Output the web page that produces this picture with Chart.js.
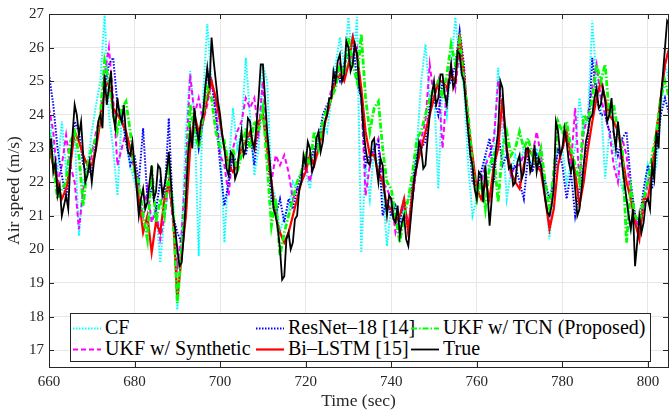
<!DOCTYPE html>
<html>
<head>
<meta charset="utf-8">
<script src="https://cdn.jsdelivr.net/npm/chart.js@4.4.1/dist/chart.umd.min.js"></script>
<style>
  body { margin: 0; background: #fff; }
  #wrap { position: relative; width: 669px; height: 413px; }
  #legend {
    position: absolute; left: 70px; top: 313px; width: 579px; height: 47px;
    border: 1px solid #262626; background: #fff;
    font-family: "Liberation Serif", serif; font-size: 20px; color: #000;
  }
  .item { position: absolute; height: 22px; line-height: 22px; white-space: nowrap; }
  .item svg { position: absolute; left: 0; top: 10px; }
  .item span { position: absolute; left: 32px; top: -1px; }
</style>
</head>
<body>
<div id="wrap">
  <canvas id="chart" width="669" height="413"></canvas>
  <div id="legend"></div>
</div>
<script>
// all series start at 660 s; True is sampled every 0.5 s, the estimates every 1 s
const t0 = 660;

const trueSpeed = [
  22.8,23.3,22.3,22.6,21.6,21.9,21.0,21.3,21.6,21.2,
  22.6,23.4,24.3,24.0,23.4,23.8,22.8,22.0,22.2,22.6,
  22.0,22.6,23.0,23.8,24.0,23.6,25.2,24.3,24.8,25.3,
  24.0,23.6,24.5,24.0,23.8,24.3,23.4,22.9,22.8,23.2,
  22.5,21.8,21.0,21.5,21.8,21.2,21.4,22.0,22.5,21.5,
  21.7,22.5,22.4,21.6,21.9,22.3,22.9,22.0,21.0,20.6,
  20.0,19.5,19.6,20.4,21.5,22.8,23.5,23.0,24.2,23.6,
  23.2,23.8,24.0,24.8,25.4,24.8,26.3,25.6,25.0,24.4,
  24.0,23.4,23.0,22.4,22.2,22.9,22.8,22.1,22.3,23.0,
  23.5,22.8,23.0,23.9,23.8,23.2,23.0,23.7,24.5,25.5,
  25.5,24.5,23.5,22.8,22.0,21.2,21.0,20.6,20.0,19.1,
  19.2,20.3,20.5,20.0,20.2,20.9,21.0,21.8,22.0,22.8,
  22.5,23.2,23.0,22.3,22.5,23.3,23.5,22.9,23.2,23.8,
  24.0,24.5,24.5,25.3,25.0,25.6,25.8,25.0,25.2,26.2,
  26.0,25.3,25.5,26.1,25.8,24.9,24.5,23.6,23.0,22.6,
  22.5,23.2,23.3,22.5,22.0,22.7,22.5,21.6,21.0,21.6,
  21.5,20.9,20.8,21.3,20.4,20.8,21.0,20.3,20.1,20.8,
  21.5,22.2,22.5,23.2,23.0,22.4,22.5,23.3,24.0,24.6,
  25.0,24.3,24.5,25.2,25.2,24.6,24.3,25.0,25.5,24.8,
  25.0,25.9,25.8,25.2,25.0,24.2,23.5,22.8,22.5,21.8,
  21.5,22.3,22.2,21.4,22.5,21.7,20.7,21.5,22.3,23.0,
  23.5,25.0,24.8,23.8,23.0,22.4,22.5,21.9,22.0,22.6,
  22.8,22.1,22.3,23.0,23.0,22.3,22.5,23.1,22.3,22.7,
  22.5,22.0,21.5,21.1,21.0,21.3,21.8,23.8,23.5,22.8,
  23.0,23.6,23.2,22.6,22.3,22.6,21.8,21.0,21.2,21.8,
  22.5,23.2,23.5,23.9,24.0,24.5,24.8,24.2,24.3,24.8,
  24.4,23.8,24.0,24.5,23.5,23.0,23.8,23.2,22.5,22.0,
  21.5,21.0,20.6,21.2,19.5,20.2,21.0,20.5,20.8,21.4,
  21.5,21.2,22.5,22.1,23.5,23.0,24.5,25.2,26.0,26.8,26.7
];

const biLstm = [
  23.0,22.5,22.0,21.5,21.8,22.5,23.5,23.2,22.8,22.5,
  22.5,23.0,23.8,24.8,25.0,24.2,24.0,23.8,23.5,23.0,
  22.5,21.5,20.5,21.0,19.9,20.8,20.5,21.5,22.0,21.0,
  18.5,19.8,21.0,23.0,24.0,23.5,23.8,24.5,25.0,24.5,
  23.8,23.0,22.5,22.3,22.5,23.0,23.2,23.5,23.0,23.8,
  24.0,23.0,22.0,21.0,20.5,20.2,20.5,21.0,21.5,22.0,
  22.3,22.8,22.5,23.0,23.5,24.0,24.5,25.0,25.2,25.0,
  25.5,26.3,25.8,24.8,23.5,22.8,22.8,22.3,22.0,21.3,
  21.2,20.8,21.0,21.5,20.5,21.8,22.5,23.0,23.5,24.0,
  24.5,25.0,25.0,24.8,25.2,25.0,26.4,25.2,23.8,22.8,
  21.8,21.5,22.0,21.5,22.5,23.0,24.5,23.0,22.3,22.0,
  21.8,22.5,23.0,22.8,22.5,22.3,21.5,20.6,21.2,22.5,
  23.0,23.5,22.8,22.3,21.3,22.0,23.0,23.8,24.5,25.0,
  24.5,24.0,23.8,23.5,22.8,22.0,21.5,20.8,20.3,21.5,
  21.5,22.3,23.5,24.5,25.5,26.0
];

const ukfTcn = [
  23.5,22.5,21.5,21.8,22.0,23.2,23.5,22.8,21.3,22.5,
  23.0,23.3,24.0,25.6,25.0,24.0,23.5,24.2,24.4,23.5,
  22.3,22.0,21.0,20.3,22.5,20.8,21.5,21.0,22.3,21.2,
  18.4,20.0,21.8,24.3,23.5,23.0,24.0,24.8,24.5,23.5,
  23.0,23.2,22.5,23.0,22.3,22.8,23.6,23.0,23.8,23.5,
  24.2,22.5,20.7,21.5,19.8,20.5,21.0,21.5,22.0,22.3,
  22.8,22.5,23.5,23.0,23.8,24.2,24.5,24.8,25.5,25.2,
  26.3,25.5,25.0,26.4,24.5,23.5,24.2,24.4,23.0,22.0,
  21.8,21.0,20.2,21.0,21.5,22.3,23.3,23.5,24.0,24.5,
  24.8,25.0,24.5,25.2,26.1,25.5,26.2,25.0,24.0,22.5,
  21.5,22.0,21.2,22.5,22.8,21.4,23.0,23.5,22.8,23.0,
  23.5,23.0,23.3,22.8,22.5,23.0,22.0,21.2,22.3,23.8,
  23.5,23.8,23.0,22.5,22.0,24.0,23.8,24.5,25.5,25.0,
  25.5,24.0,24.3,23.5,23.0,20.2,21.8,21.0,20.8,21.5,
  22.0,22.8,23.5,24.5,25.0,24.5
];

const resnet18 = [
  25.2,24.3,23.0,22.2,21.5,22.5,23.8,23.5,22.5,22.3,
  22.3,23.2,23.8,24.8,25.5,25.7,24.3,24.0,23.2,22.5,
  22.8,22.0,23.6,21.5,21.8,21.2,22.0,21.5,23.9,21.0,
  20.5,20.2,21.0,23.8,24.0,23.0,23.8,25.3,25.0,24.0,
  22.5,21.3,22.0,22.8,22.5,23.0,22.8,23.5,22.5,23.8,
  24.0,23.0,21.5,21.0,21.5,20.8,21.5,21.2,21.8,22.3,
  22.8,22.6,23.0,23.2,24.0,24.3,24.5,25.3,25.0,25.5,
  25.8,26.3,25.0,24.5,22.5,22.8,23.0,23.2,21.0,21.5,
  21.0,21.3,20.8,21.5,20.5,22.0,22.8,23.0,23.2,24.3,
  24.5,24.0,25.0,24.8,25.0,25.5,26.5,25.5,23.5,22.0,
  21.8,22.3,22.8,23.3,22.0,23.5,22.5,22.8,22.3,22.5,
  22.0,21.5,22.8,22.3,22.8,22.3,22.0,21.5,22.0,23.0,
  22.5,21.5,22.3,21.0,21.8,22.5,23.3,25.7,24.5,24.0,
  24.0,23.5,23.5,22.8,23.3,23.5,22.0,21.0,20.8,21.8,
  22.5,21.8,23.0,24.0,24.5,24.0
];

const ukfSynthetic = [
  24.2,23.5,22.0,22.5,23.4,22.5,22.0,20.6,21.8,22.3,
  22.8,23.5,24.0,25.2,26.0,24.5,22.5,23.0,23.5,23.0,
  22.3,21.5,21.0,21.8,20.8,21.2,20.3,21.0,22.0,20.8,
  19.5,20.5,22.5,25.2,24.0,24.5,23.8,24.3,25.0,24.2,
  22.8,22.5,21.6,23.0,23.5,23.8,24.5,24.2,24.5,23.5,
  25.0,23.0,22.0,22.8,22.5,22.8,22.3,21.5,21.8,22.0,
  22.5,22.0,22.8,23.3,23.5,24.0,24.8,25.0,25.5,25.3,
  25.5,25.8,26.0,24.5,21.6,22.5,23.0,23.3,22.0,21.8,
  21.5,20.5,21.0,21.3,20.8,21.5,22.5,23.3,23.8,25.5,
  24.5,25.0,23.0,24.8,25.5,24.8,26.0,25.3,23.8,22.5,
  21.5,22.0,22.5,22.8,23.3,25.0,24.2,22.8,22.2,22.5,
  22.5,22.8,23.0,22.8,23.5,22.8,21.5,20.8,22.3,23.0,
  23.0,23.3,22.5,24.2,22.0,23.5,24.0,24.8,25.5,24.5,
  24.0,23.5,22.5,22.0,23.3,22.8,21.5,21.0,20.5,21.2,
  22.0,22.5,23.5,24.5,25.5,26.0
];

const cf = [
  24.0,23.0,22.3,23.8,22.3,22.8,23.5,20.4,22.0,22.5,
  23.5,24.3,25.0,27.0,24.0,23.0,21.6,24.0,23.3,22.5,
  22.0,21.5,21.0,21.5,20.8,21.3,19.6,21.0,22.0,21.5,
  18.2,20.5,23.5,25.3,24.0,19.8,24.5,26.7,25.0,24.5,
  23.5,20.2,22.5,24.2,23.0,23.5,25.7,24.0,22.2,23.0,
  25.5,25.0,22.0,21.5,20.5,21.0,21.2,22.0,21.8,22.0,
  22.3,21.8,22.8,23.2,23.8,23.5,24.5,25.5,26.3,25.5,
  26.9,25.5,26.9,19.9,22.5,21.5,23.0,22.5,21.8,20.1,
  21.3,21.0,20.5,21.3,21.5,22.0,23.0,25.0,26.1,24.5,
  24.8,21.8,25.0,24.0,25.5,26.9,25.5,24.8,22.5,21.0,
  21.5,22.0,22.8,22.3,23.0,25.4,23.5,21.5,22.3,22.8,
  22.5,23.0,22.8,22.5,23.0,22.5,21.8,20.3,22.0,23.0,
  23.0,22.0,22.5,23.0,24.5,23.5,24.0,26.8,25.0,24.5,
  22.1,23.5,23.0,22.3,21.8,21.5,20.6,21.0,20.6,21.5,
  22.5,22.0,22.5,24.0,25.5,25.0
];

const xTicks = [660, 680, 700, 720, 740, 760, 780, 800];
const yTicks = [17, 18, 19, 20, 21, 22, 23, 24, 25, 26, 27];

const toPoints = (arr, step) => arr.map((v, i) => ({ x: t0 + i * step, y: v }));

// legend order (row by row) and draw order (True on top)
const series = [
  { label: 'CF', data: cf, step: 1, color: '#00ffff', dash: [1.5, 1.5], width: 2, order: 5 },
  { label: 'ResNet\u201318 [14]', data: resnet18, step: 1, color: '#0000ff', dash: [1.5, 1.5], width: 2, order: 3 },
  { label: 'UKF w/ TCN (Proposed)', data: ukfTcn, step: 1, color: '#00ff00', dash: [6, 2, 1.5, 2], width: 2.8, order: 1 },
  { label: 'UKF w/ Synthetic', data: ukfSynthetic, step: 1, color: '#ff00ff', dash: [5, 3], width: 2, order: 4 },
  { label: 'Bi\u2013LSTM [15]', data: biLstm, step: 1, color: '#ff0000', dash: [], width: 2.2, order: 2 },
  { label: 'True', data: trueSpeed, step: 0.5, color: '#000000', dash: [], width: 1.8, order: 0 }
];

const serif = '"Liberation Serif", serif';

const boxPlugin = {
  id: 'box',
  afterDatasetsDraw(chart) {
    const { ctx, chartArea: a, scales } = chart;
    ctx.save();
    ctx.strokeStyle = '#262626';
    ctx.lineWidth = 1;
    ctx.beginPath();
    xTicks.forEach(v => {
      const px = Math.round(scales.x.getPixelForValue(v)) + 0.5;
      ctx.moveTo(px, a.bottom); ctx.lineTo(px, a.bottom - 5);
      ctx.moveTo(px, a.top); ctx.lineTo(px, a.top + 5);
    });
    yTicks.forEach(v => {
      const py = Math.round(scales.y.getPixelForValue(v)) + 0.5;
      ctx.moveTo(a.left, py); ctx.lineTo(a.left + 5, py);
      ctx.moveTo(a.right, py); ctx.lineTo(a.right - 5, py);
    });
    ctx.stroke();
    ctx.strokeRect(Math.round(a.left) + 0.5, Math.round(a.top) + 0.5,
      Math.round(a.right - a.left), Math.round(a.bottom - a.top));
    ctx.restore();
  }
};

new Chart(document.getElementById('chart'), {
  type: 'line',
  data: {
    datasets: series.map(s => ({
      label: s.label,
      data: toPoints(s.data, s.step),
      borderColor: s.color,
      borderWidth: s.width,
      borderDash: s.dash,
      order: s.order,
      pointRadius: 0,
      tension: 0,
      fill: false
    }))
  },
  options: {
    responsive: false,
    animation: false,
    devicePixelRatio: 1,
    layout: { padding: { top: 13, right: 1, left: 0, bottom: 0 } },
    plugins: { legend: { display: false }, tooltip: { enabled: false } },
    scales: {
      x: {
        type: 'linear',
        min: 660,
        max: 804.7,
        afterFit: s => { s.height = 46; },
        afterBuildTicks: s => { s.ticks = xTicks.map(v => ({ value: v })); },
        ticks: { font: { family: serif, size: 15 }, color: '#262626', padding: 6, maxRotation: 0 },
        grid: { color: '#e6e6e6', lineWidth: 1, drawTicks: false },
        border: { display: false },
        title: { display: true, text: 'Time (sec)', font: { family: serif, size: 17.5 }, color: '#262626', padding: { top: 0, bottom: 1 } }
      },
      y: {
        min: 16.5,
        max: 27,
        afterFit: s => { s.width = 49; },
        afterBuildTicks: s => { s.ticks = yTicks.map(v => ({ value: v })); },
        ticks: { font: { family: serif, size: 15 }, color: '#262626', padding: 5 },
        grid: { color: '#e6e6e6', lineWidth: 1, drawTicks: false },
        border: { display: false },
        title: { display: true, text: 'Air speed (m/s)', font: { family: serif, size: 17.5 }, color: '#262626', padding: { top: 4, bottom: 0 } }
      }
    }
  },
  plugins: [boxPlugin]
});

// legend drawn as html inside the plot area, 3 columns x 2 rows
const legendPos = [
  [2, 3], [185, 3], [340, 3],
  [2, 24], [185, 24], [340, 24]
];
const legend = document.getElementById('legend');
series.forEach((s, i) => {
  const item = document.createElement('div');
  item.className = 'item';
  item.style.left = legendPos[i][0] + 'px';
  item.style.top = legendPos[i][1] + 'px';
  item.innerHTML = `<svg width="30" height="3"><line x1="0" y1="1.5" x2="28" y2="1.5" stroke="${s.color}" stroke-width="${Math.min(s.width, 2.2)}" stroke-dasharray="${s.dash.join(' ')}"/></svg><span>${s.label}</span>`;
  legend.appendChild(item);
});
</script>
</body>
</html>
